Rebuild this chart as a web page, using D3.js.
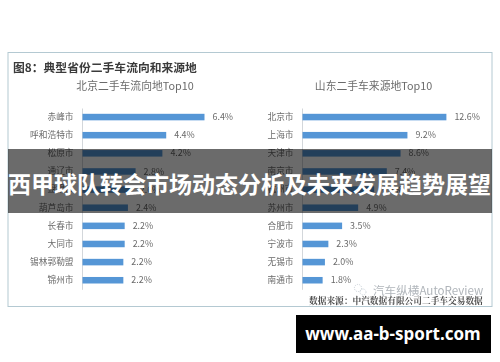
<!DOCTYPE html>
<html>
<head>
<meta charset="utf-8">
<script src="https://cdn.jsdelivr.net/npm/d3@7"></script>
<style>
  html, body { margin: 0; padding: 0; background: #fff; }
  svg { display: block; }
  text { font-family: "Noto Sans CJK SC", "Noto Sans", sans-serif; }
</style>
</head>
<body>
<div id="chart"></div>
<script>
const leftCities = ["赤峰市", "呼和浩特市", "松原市", "通辽市", "盘锦市", "葫芦岛市", "长春市", "大同市", "锡林郭勒盟", "锦州市"];
const leftValues = [6.4, 4.4, 4.2, 2.8, 2.6, 2.4, 2.23, 2.23, 2.16, 2.16];
const rightCities = ["北京市", "上海市", "天津市", "南京市", "杭州市", "苏州市", "合肥市", "宁波市", "无锡市", "南通市"];
const rightValues = [12.6, 9.2, 8.6, 7.4, 6.3, 4.9, 3.5, 2.3, 2.0, 1.8];

const width = 500;
const height = 362;

const svg = d3.select("#chart")
    .append("svg")
    .attr("width", width)
    .attr("height", height);

svg.append("defs").append("filter")
    .attr("id", "soft")
    .append("feGaussianBlur")
    .attr("stdDeviation", 0.35);

const page = svg.append("g").attr("filter", "url(#soft)");

page.append("rect")
    .attr("x", 8)
    .attr("y", 52.5)
    .attr("width", 484)
    .attr("height", 254)
    .attr("fill", "#fff")
    .attr("stroke", "#b4c9d2")
    .attr("stroke-width", 1);

page.append("text")
    .attr("x", 13)
    .attr("y", 72)
    .attr("font-size", 11.8)
    .attr("font-weight", 700)
    .attr("fill", "#3a3a3a")
    .text("图8：典型省份二手车流向和来源地");

function drawPanel(title, titleX, axisX, xPerUnit, maxValue, cities, values) {
    const x = d3.scaleLinear()
        .domain([0, maxValue])
        .range([axisX, axisX + xPerUnit * maxValue]);
    const y = d3.scaleBand()
        .domain(cities)
        .range([108, 289.3])
        .paddingInner(0.64)
        .paddingOuter(0.32);

    page.append("text")
        .attr("x", titleX)
        .attr("y", 90)
        .attr("text-anchor", "middle")
        .attr("font-size", 10.8)
        .attr("fill", "#6b6b6b")
        .text(title);

    const axis = page.append("g")
        .attr("transform", `translate(${axisX},0)`)
        .call(d3.axisLeft(y).tickSize(0).tickPadding(8.5));
    axis.select(".domain").attr("stroke", "#d3d7db");
    axis.selectAll("text")
        .attr("font-size", 8.7)
        .attr("fill", "#6a6a6a");

    const rows = cities.map((c, i) => ({ city: c, value: values[i] }));

    page.selectAll(null)
        .data(rows)
        .enter()
        .append("rect")
        .attr("x", axisX + 0.5)
        .attr("y", d => y(d.city))
        .attr("width", d => x(d.value) - axisX - 0.5)
        .attr("height", y.bandwidth())
        .attr("fill", "#5596d6");

    page.selectAll(null)
        .data(rows)
        .enter()
        .append("text")
        .attr("x", d => x(d.value) + 8)
        .attr("y", d => y(d.city) + y.bandwidth() / 2)
        .attr("dy", "0.35em")
        .attr("font-size", 8.9)
        .attr("fill", "#6a6a6a")
        .text(d => d.value.toFixed(1) + "%");
}

drawPanel("北京二手车流向地Top10", 135, 82, 19.14, 6.4, leftCities, leftValues);
drawPanel("山东二手车来源地Top10", 373.5, 302, 11.46, 12.6, rightCities, rightValues);

// wechat mark + watermark, bottom right of the picture
const mark = page.append("g").attr("fill", "none").attr("stroke", "#b9c3cc").attr("stroke-width", 0.7);
mark.append("circle").attr("cx", 358).attr("cy", 288).attr("r", 3.6).attr("stroke-dasharray", "1.2 1");
mark.append("circle").attr("cx", 363).attr("cy", 292).attr("r", 3).attr("stroke-dasharray", "1.2 1");

page.append("text")
    .attr("x", 373)
    .attr("y", 295)
    .attr("font-size", 11.6)
    .attr("fill", "#a2a8ae")
    .attr("opacity", 0.85)
    .text("汽车纵横AutoReview");

page.append("text")
    .attr("x", 309)
    .attr("y", 303.5)
    .attr("font-size", 8.7)
    .attr("font-weight", 700)
    .attr("fill", "#4d4d4d")
    .attr("style", "font-family:'Noto Serif CJK SC','Noto Sans CJK SC',serif")
    .text("数据来源：中汽数据有限公司二手车交易数据");

// banner across the chart
svg.append("rect")
    .attr("x", 8)
    .attr("y", 149)
    .attr("width", 484)
    .attr("height", 64)
    .attr("fill", "#000")
    .attr("opacity", 0.58);

svg.append("text")
    .attr("x", 249.5)
    .attr("y", 192.8)
    .attr("text-anchor", "middle")
    .attr("font-size", 23)
    .attr("font-weight", 700)
    .attr("fill", "#fff")
    .text("西甲球队转会市场动态分析及未来发展趋势展望");

svg.append("rect")
    .attr("x", 296)
    .attr("y", 315)
    .attr("width", 195)
    .attr("height", 38)
    .attr("fill", "#000");

svg.append("text")
    .attr("x", 393)
    .attr("y", 339.5)
    .attr("text-anchor", "middle")
    .attr("font-size", 17)
    .attr("font-weight", 700)
    .attr("fill", "#fff")
    .attr("style", "font-family:'Noto Sans',sans-serif")
    .text("www.aa-b-sport.com");
</script>
</body>
</html>
